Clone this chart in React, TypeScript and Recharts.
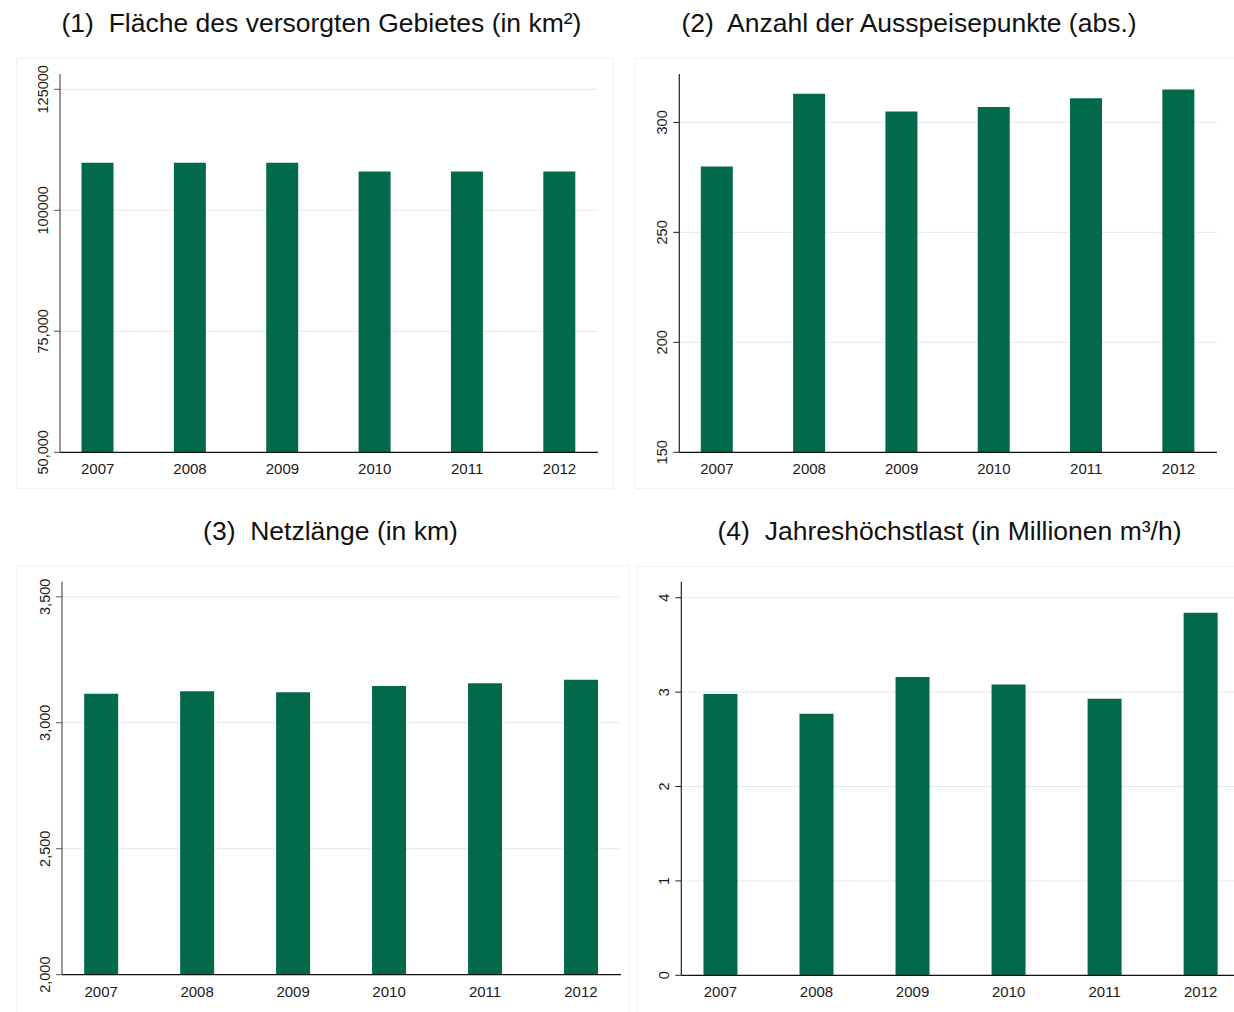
import { BarChart, Bar, XAxis, YAxis, CartesianGrid } from "recharts";

// ── Data ────────────────────────────────────────────────────────────────

const YEARS = [2007, 2008, 2009, 2010, 2011, 2012];

const FLAECHE = [109800, 109800, 109800, 108000, 108000, 108000];
const AUSSPEISEPUNKTE = [280, 313, 305, 307, 311, 315];
const NETZLAENGE = [3115, 3125, 3121, 3146, 3157, 3171];
const HOECHSTLAST = [2.98, 2.77, 3.16, 3.08, 2.93, 3.84];

const FLAECHE_TICKS = [50000, 75000, 100000, 125000];
const FLAECHE_LABELS = ["50,000", "75,000", "100000", "125000"];
const PUNKTE_TICKS = [150, 200, 250, 300];
const PUNKTE_LABELS = ["150", "200", "250", "300"];
const NETZ_TICKS = [2000, 2500, 3000, 3500];
const NETZ_LABELS = ["2,000", "2,500", "3,000", "3,500"];
const LAST_TICKS = [0, 1, 2, 3, 4];
const LAST_LABELS = ["0", "1", "2", "3", "4"];

const TITLES = [
  "(1)  Fläche des versorgten Gebietes (in km²)",
  "(2)  Anzahl der Ausspeisepunkte (abs.)",
  "(3)  Netzlänge (in km)",
  "(4)  Jahreshöchstlast (in Millionen m³/h)",
];

// ── Styling ─────────────────────────────────────────────────────────────

const FONT = "Arial, 'Liberation Sans', Helvetica, sans-serif";
const BAR_COLOR = "#02694d";
const GRID_COLOR = "#e3eaed";
const FRAME_COLOR = "#f0f2f4";
const X_DOMAIN: [number, number] = [2006.592, 2012.417];

type PanelProps = {
  values: number[];
  ticks: number[];
  labels: string[];
  yDomain: [number, number];
  left: number;
  top: number;
  width: number;
  height: number;
  plotLeft: number;
  plotRight: number;
  plotTop: number;
  plotBottom: number;
  barSize: number;
  yAxisColor: string;
};

function Panel(p: PanelProps) {
  const data = YEARS.map((year, i) => ({ year, value: p.values[i] }));
  const xAxisHeight = 30;
  const yAxisWidth = p.plotLeft - p.left;
  const margin = {
    top: p.plotTop - p.top,
    right: p.left + p.width - p.plotRight,
    bottom: p.top + p.height - p.plotBottom - xAxisHeight,
    left: 0,
  };
  const axisX = yAxisWidth;
  const baseY = p.plotBottom - p.top;

  const yTick = (props: any) => {
    const idx = p.ticks.indexOf(props.payload.value);
    return (
      <text
        transform={`translate(${axisX - 12},${props.y}) rotate(-90)`}
        textAnchor="middle"
        fontSize={14.5}
        fontFamily={FONT}
        fill="#1a1a1a"
      >
        {idx >= 0 ? p.labels[idx] : props.payload.value}
      </text>
    );
  };

  const xTick = (props: any) => (
    <text
      x={props.x}
      y={baseY + 22}
      textAnchor="middle"
      fontSize={15}
      fontFamily={FONT}
      fill="#1a1a1a"
    >
      {props.payload.value}
    </text>
  );

  return (
    <div style={{ position: "absolute", left: p.left, top: p.top }}>
      <BarChart width={p.width} height={p.height} data={data} margin={margin}>
        <CartesianGrid
          vertical={false}
          stroke={GRID_COLOR}
          horizontalValues={p.ticks}
        />
        <XAxis
          type="number"
          dataKey="year"
          domain={X_DOMAIN}
          ticks={YEARS}
          interval={0}
          allowDataOverflow
          height={xAxisHeight}
          tickLine={false}
          axisLine={{ stroke: "#111", strokeWidth: 1.2 }}
          tick={xTick}
        />
        <YAxis
          type="number"
          domain={p.yDomain}
          ticks={p.ticks}
          interval={0}
          allowDataOverflow
          width={yAxisWidth}
          tickSize={6}
          axisLine={{ stroke: p.yAxisColor, strokeWidth: 1.2 }}
          tickLine={{ stroke: p.yAxisColor }}
          tick={yTick}
        />
        <Bar
          dataKey="value"
          fill={BAR_COLOR}
          barSize={p.barSize}
          isAnimationActive={false}
        />
      </BarChart>
    </div>
  );
}

function Frame({ x, y, w, h }: { x: number; y: number; w: number; h: number }) {
  return (
    <div
      style={{
        position: "absolute",
        left: x,
        top: y,
        width: w,
        height: h,
        border: `1px solid ${FRAME_COLOR}`,
        boxSizing: "border-box",
      }}
    />
  );
}

function Title({ x, y, children }: { x: number; y: number; children: string }) {
  return (
    <text
      x={x}
      y={y}
      textAnchor="middle"
      fontSize={26.5}
      fontFamily={FONT}
      fill="#111"
      style={{ whiteSpace: "pre" }}
    >
      {children}
    </text>
  );
}

export default function App() {
  return (
    <div
      style={{
        position: "absolute",
        left: 0,
        top: 0,
        width: 1234,
        height: 1012,
        overflow: "hidden",
        background: "#fff",
        fontFamily: FONT,
      }}
    >
      <Frame x={16} y={58} w={598} h={431} />
      <Frame x={635} y={58} w={610} h={431} />
      <Frame x={16} y={565} w={613} h={460} />
      <Frame x={636} y={566} w={610} h={460} />

      <svg
        width={1234}
        height={1012}
        style={{ position: "absolute", left: 0, top: 0 }}
      >
        <Title x={321.5} y={32}>{TITLES[0]}</Title>
        <Title x={909} y={32}>{TITLES[1]}</Title>
        <Title x={330.5} y={540}>{TITLES[2]}</Title>
        <Title x={949.5} y={540}>{TITLES[3]}</Title>
      </svg>

      <Panel
        values={FLAECHE}
        ticks={FLAECHE_TICKS}
        labels={FLAECHE_LABELS}
        yDomain={[50000, 128160]}
        left={0}
        top={40}
        width={620}
        height={460}
        plotLeft={60}
        plotRight={598}
        plotTop={74}
        plotBottom={452.3}
        barSize={32}
        yAxisColor="#555"
      />
      <Panel
        values={AUSSPEISEPUNKTE}
        ticks={PUNKTE_TICKS}
        labels={PUNKTE_LABELS}
        yDomain={[150, 322]}
        left={620}
        top={40}
        width={614}
        height={460}
        plotLeft={679.3}
        plotRight={1217}
        plotTop={74}
        plotBottom={452.3}
        barSize={32}
        yAxisColor="#222"
      />
      <Panel
        values={NETZLAENGE}
        ticks={NETZ_TICKS}
        labels={NETZ_LABELS}
        yDomain={[2000, 3560]}
        left={0}
        top={550}
        width={630}
        height={462}
        plotLeft={62}
        plotRight={621}
        plotTop={581.7}
        plotBottom={974.7}
        barSize={34}
        yAxisColor="#555"
      />
      <Panel
        values={HOECHSTLAST}
        ticks={LAST_TICKS}
        labels={LAST_LABELS}
        yDomain={[0, 4.17]}
        left={620}
        top={550}
        width={640}
        height={462}
        plotLeft={681.3}
        plotRight={1240.7}
        plotTop={581.7}
        plotBottom={975.3}
        barSize={34}
        yAxisColor="#222"
      />
    </div>
  );
}
